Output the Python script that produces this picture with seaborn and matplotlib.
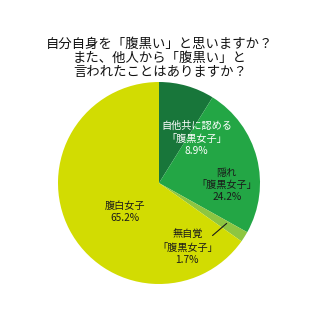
import matplotlib
matplotlib.use("Agg")
import matplotlib.pyplot as plt
import seaborn as sns

sns.set_theme(style="white")
plt.rcParams['font.family'] = ['Noto Sans CJK JP', 'DejaVu Sans']

categories = ["自他共に認める\n「腹黒女子」", "隠れ\n「腹黒女子」", "無自覚\n「腹黒女子」", "腹白女子"]
values = [8.9, 24.2, 1.7, 65.2]
colors = sns.color_palette(["#18763a", "#23a645", "#8dc641", "#d2dc02"])
text_colors = ["white", "#1a1a1a", "#1a1a1a", "#1a1a1a"]
title = "自分自身を「腹黒い」と思いますか？\nまた、他人から「腹黒い」と\n言われたことはありますか？"

fig = plt.figure(figsize=(3.2, 3.2), dpi=100)
fig.patch.set_facecolor("white")
cx, cy, r = 159 / 320, 1 - 183 / 320, 101 / 320
ax = fig.add_axes([cx - r, cy - r, 2 * r, 2 * r])
ax.pie(values, colors=colors, startangle=90, counterclock=False, radius=1,
       wedgeprops=dict(linewidth=0))
ax.set_xlim(-1, 1)
ax.set_ylim(-1, 1)
ax.set_aspect("equal")
ax.axis("off")

label_pos = [(0.37, 0.44), (0.67, -0.02), (0.28, -0.64), (-0.34, -0.29)]
for cat, v, (x, y), tc in zip(categories, values, label_pos, text_colors):
    ax.text(x, y, f"{cat}\n{v}%", ha="center", va="center", fontsize=7.3,
            color=tc, linespacing=1.3)
ax.plot([0.67, 0.53], [-0.40, -0.52], color="#1a1a1a", linewidth=0.8)

fig.text(0.5, 1 - 58 / 320, title, ha="center", va="center", fontsize=9.6,
         color="#111111", linespacing=1.0)

fig.savefig("out.png", dpi=100, facecolor="white")
